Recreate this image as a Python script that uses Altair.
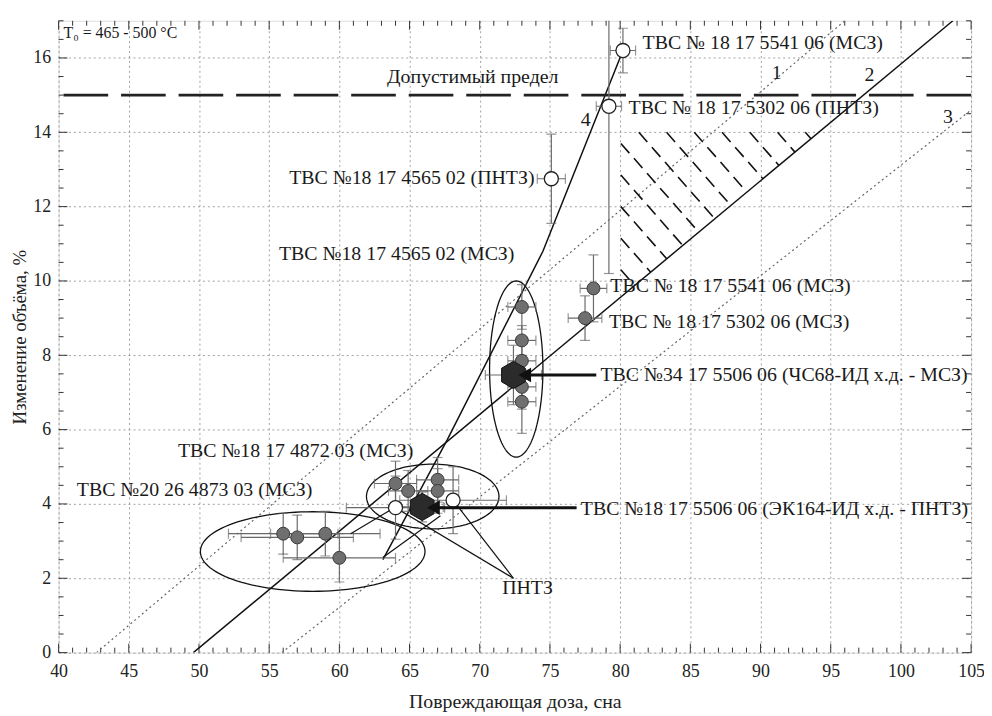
import altair as alt
import pandas as pd
import numpy as np

# ---------------- data ----------------
# open (white) circles: x, y, x-error, y-error
open_x = [80.2, 79.2, 75.1, 64.0, 68.1]
open_y = [16.2, 14.7, 12.75, 3.9, 4.1]
open_xe = [0.9, 0.9, 1.0, 3.5, 3.8]
open_ye = [0.6, 4.5, 1.2, 0.85, 0.9]

# filled grey circles
fill_x = [78.1, 77.5, 73.0, 73.0, 73.0, 73.0, 73.0, 64.0, 64.9, 67.0, 67.0, 56.0, 57.0, 59.0, 60.0]
fill_y = [9.8, 9.0, 9.3, 8.4, 7.85, 7.15, 6.75, 4.55, 4.35, 4.65, 4.35, 3.2, 3.1, 3.2, 2.55]
fill_xe = [0.95, 1.2, 1.0, 1.0, 1.0, 1.0, 1.0, 1.5, 1.4, 1.5, 1.5, 3.9, 4.0, 3.9, 4.0]
fill_ye = [0.9, 0.6, 0.6, 0.4, 0.5, 0.6, 0.85, 0.6, 0.55, 0.6, 0.6, 0.55, 0.6, 0.6, 0.65]

# dark hexagons
hex_x = [72.4, 65.9]
hex_y = [7.47, 3.92]
hex_xe = [2.0, 1.5]
hex_ye = [0.8, 0.4]

# reference lines
line2_x = [49.6, 103.7]
line2_y = [0.0, 17.0]
line4_x = [63.1, 67.7, 74.5, 80.2]
line4_y = [2.5, 5.74, 10.8, 16.2]
line1_x = [42.7, 96.0]
line1_y = [0.0, 17.0]
line3_x = [55.9, 105.0]
line3_y = [0.0, 14.6]
limit_y = 15.0

# ellipses: centre x, centre y, half-width, half-height
ell_cx = [72.6, 66.65, 58.1]
ell_cy = [7.63, 4.2, 2.72]
ell_rx = [1.9, 4.72, 8.0]
ell_ry = [2.37, 0.87, 1.07]

# hatched zone: left edge x, top y, hatch offsets
hatch_left = 80.05
hatch_top = 14.0
hatch_c = [10.3, 11.15, 12.0, 12.85, 13.7, 14.55, 15.4, 16.25, 17.1, 17.95, 18.8, 19.65]

title_label = ("T₀ = 465 - 500 °C", 40.35, 16.68)
labels_left = [
    ("Допустимый предел", 63.4, 15.48),
    ("1", 90.8, 15.6),
    ("2", 97.4, 15.55),
    ("3", 103.0, 14.4),
    ("4", 77.2, 14.33),
    ("ТВС № 18 17 5541 06 (МСЗ)", 81.6, 16.4),
    ("ТВС № 18 17 5302 06 (ПНТЗ)", 80.6, 14.65),
    ("ТВС №18 17 4565 02 (МСЗ)", 55.7, 10.73),
    ("ТВС № 18 17 5541 06 (МСЗ)", 79.3, 9.87),
    ("ТВС № 18 17 5302 06 (МСЗ)", 79.2, 8.89),
    ("ТВС №34 17 5506 06 (ЧС68-ИД х.д. - МСЗ)", 78.6, 7.47),
    ("ТВС №18 17 5506 06 (ЭК164-ИД х.д. - ПНТЗ)", 77.2, 3.87),
    ("ТВС №18 17 4872 03 (МСЗ)", 48.5, 5.42),
    ("ТВС №20 26 4873 03 (МСЗ)", 41.3, 4.38),
    ("ПНТЗ", 71.6, 1.73),
]
labels_right = [
    ("ТВС №18 17 4565 02 (ПНТЗ)", 73.9, 12.78),
]

# arrows / leader lines: x1, y1, x2, y2
thick_arrows = [(78.3, 7.47, 73.2, 7.47), (76.9, 3.9, 66.7, 3.9)]
thin_lines = [(72.4, 2.0, 64.0, 3.9), (72.4, 2.0, 68.1, 4.1),
              (60.8, 3.2, 63.7, 3.85), (63.1, 2.56, 67.2, 3.68)]

# ---------------- chart ----------------
W, H = 920, 637
serif = "'Liberation Serif', 'DejaVu Serif', serif"
FS = 20
xs = alt.Scale(domain=[40, 105], nice=False, zero=False)
ys = alt.Scale(domain=[0, 17], nice=False, zero=False)
xaxis = alt.Axis(values=list(range(40, 106, 5)), title="Повреждающая доза, сна",
                 grid=True, gridDash=[2, 3], gridColor="#8a8a8a", gridWidth=0.8,
                 ticks=False, domain=False, labelFont=serif, labelFontSize=18,
                 labelColor="#222", labelPadding=10, labelFlush=False,
                 titleFont=serif, titleFontSize=20, titleFontWeight="normal",
                 titleColor="#222", titlePadding=11)
yaxis = alt.Axis(values=list(range(0, 17, 2)), title="Изменение объёма, %",
                 grid=True, gridDash=[2, 3], gridColor="#8a8a8a", gridWidth=0.8,
                 ticks=False, domain=False, labelFont=serif, labelFontSize=18,
                 labelColor="#222", labelPadding=8, labelFlush=False,
                 titleFont=serif, titleFontSize=19, titleFontWeight="normal",
                 titleColor="#222", titlePadding=3)


def X(f):
    return alt.X(f, type="quantitative", scale=xs, axis=xaxis)


def Y(f):
    return alt.Y(f, type="quantitative", scale=ys, axis=yaxis)


layers = []

# axis ticks inside the frame
xmaj = pd.DataFrame({"v": list(range(40, 106, 5))})
xmin = pd.DataFrame({"v": [v for v in range(40, 106) if v % 5]})
ymaj = pd.DataFrame({"v": list(range(0, 17, 2))})
ymin = pd.DataFrame({"v": [v / 2 for v in range(0, 35) if v % 4]})
for df, ln in [(xmaj, 9), (xmin, 5)]:
    layers.append(alt.Chart(df).mark_rule(color="#333", strokeWidth=1).encode(
        x=X("v"), y=alt.value(H), y2=alt.value(H - ln)))
    layers.append(alt.Chart(df).mark_rule(color="#333", strokeWidth=1).encode(
        x=X("v"), y=alt.value(0), y2=alt.value(ln)))
for df, ln in [(ymaj, 9), (ymin, 5)]:
    layers.append(alt.Chart(df).mark_rule(color="#333", strokeWidth=1).encode(
        y=Y("v"), x=alt.value(0), x2=alt.value(ln)))
    layers.append(alt.Chart(df).mark_rule(color="#333", strokeWidth=1).encode(
        y=Y("v"), x=alt.value(W), x2=alt.value(W - ln)))

# dotted lines 1 and 3
dl = pd.DataFrame({"x": line1_x + line3_x, "y": line1_y + line3_y,
                   "g": ["1", "1", "3", "3"]})
layers.append(alt.Chart(dl).mark_line(color="#666", strokeDash=[2, 3], strokeWidth=1.2, clip=True).encode(
    x=X("x"), y=Y("y"), detail="g:N"))

# solid lines 2 and 4
sl = pd.DataFrame({"x": line2_x + line4_x, "y": line2_y + line4_y,
                   "g": ["2"] * len(line2_x) + ["4"] * len(line4_x),
                   "o": list(range(len(line2_x))) + list(range(len(line4_x)))})
layers.append(alt.Chart(sl).mark_line(color="#111", strokeWidth=1.5, clip=True).encode(
    x=X("x"), y=Y("y"), detail="g:N", order="o:Q"))

# permissible limit
layers.append(alt.Chart(pd.DataFrame({"y": [limit_y]})).mark_rule(
    color="#222", strokeWidth=3, strokeDash=[45, 13]).encode(y=Y("y")))

# hatching (bounded by left edge, top edge and line 2)
k2 = (line2_y[1] - line2_y[0]) / (line2_x[1] - line2_x[0])
hs = -0.43
rows = []
for i, c in enumerate(hatch_c):
    if c <= hatch_top:
        x1, y1 = hatch_left, c
    else:
        x1 = hatch_left + (c - hatch_top) / (-hs)
        y1 = hatch_top
    xe = (c - hs * hatch_left + k2 * line2_x[0]) / (k2 - hs)
    ye = k2 * (xe - line2_x[0])
    if xe > x1:
        rows.append({"x": x1, "y": y1, "x2": xe, "y2": ye})
hd = pd.DataFrame(rows)
layers.append(alt.Chart(hd).mark_rule(color="#111", strokeWidth=1.6, strokeDash=[13, 7]).encode(
    x=X("x"), y=Y("y"), x2="x2", y2="y2"))

# ellipses
erows = []
t = np.linspace(0, 2 * np.pi, 121)
for i in range(len(ell_cx)):
    for j, tt in enumerate(t):
        erows.append({"x": ell_cx[i] + ell_rx[i] * np.cos(tt),
                      "y": ell_cy[i] + ell_ry[i] * np.sin(tt), "g": i, "o": j})
ed = pd.DataFrame(erows)
layers.append(alt.Chart(ed).mark_line(color="#111", strokeWidth=1.3).encode(
    x=X("x"), y=Y("y"), detail="g:N", order="o:Q"))


def errdf(xv, yv, xe, ye):
    return pd.DataFrame({"x": xv, "y": yv,
                         "xlo": [a - b for a, b in zip(xv, xe)], "xhi": [a + b for a, b in zip(xv, xe)],
                         "ylo": [a - b for a, b in zip(yv, ye)], "yhi": [a + b for a, b in zip(yv, ye)]})


eb = pd.concat([errdf(open_x, open_y, open_xe, open_ye),
                errdf(fill_x, fill_y, fill_xe, fill_ye),
                errdf(hex_x, hex_y, hex_xe, hex_ye)], ignore_index=True)
ec = "#6a6a6a"
layers.append(alt.Chart(eb).mark_rule(color=ec, strokeWidth=1.2, clip=True).encode(
    x=X("xlo"), x2="xhi", y=Y("y")))
layers.append(alt.Chart(eb).mark_rule(color=ec, strokeWidth=1.2, clip=True).encode(
    x=X("x"), y=Y("ylo"), y2="yhi"))
for f in ["xlo", "xhi"]:
    layers.append(alt.Chart(eb).mark_tick(color=ec, orient="vertical", size=10, thickness=1.2, clip=True).encode(
        x=X(f), y=Y("y")))
for f in ["ylo", "yhi"]:
    layers.append(alt.Chart(eb).mark_tick(color=ec, orient="horizontal", size=10, thickness=1.2, clip=True).encode(
        x=X("x"), y=Y(f)))

# thin leader lines
tl = pd.DataFrame(thin_lines, columns=["x", "y", "x2", "y2"])
layers.append(alt.Chart(tl).mark_rule(color="#111", strokeWidth=1.2).encode(
    x=X("x"), y=Y("y"), x2="x2", y2="y2"))

# points
layers.append(alt.Chart(pd.DataFrame({"x": fill_x, "y": fill_y})).mark_point(
    shape="circle", filled=True, fill="#6f6f6f", stroke="#3a3a3a", strokeWidth=1, size=170, opacity=1).encode(
    x=X("x"), y=Y("y")))
layers.append(alt.Chart(pd.DataFrame({"x": open_x, "y": open_y})).mark_point(
    shape="circle", filled=True, fill="white", stroke="#222", strokeWidth=1.3, size=200, opacity=1).encode(
    x=X("x"), y=Y("y")))
hexpath = "M0,-1 L0.866,-0.5 L0.866,0.5 L0,1 L-0.866,0.5 L-0.866,-0.5 Z"
layers.append(alt.Chart(pd.DataFrame({"x": hex_x, "y": hex_y})).mark_point(
    shape=hexpath, filled=True, fill="#2b2b2b", stroke="#111", strokeWidth=1, size=760, opacity=1).encode(
    x=X("x"), y=Y("y")))

# thick arrows
ta = pd.DataFrame(thick_arrows, columns=["x", "y", "x2", "y2"])
layers.append(alt.Chart(ta).mark_rule(color="#111", strokeWidth=3).encode(
    x=X("x"), y=Y("y"), x2="x2", y2="y2"))
layers.append(alt.Chart(ta).mark_point(shape="triangle-left", filled=True, color="#111", size=220, opacity=1).encode(
    x=X("x2"), y=Y("y2")))

# texts
t0 = pd.DataFrame([title_label], columns=["t", "x", "y"])
layers.append(alt.Chart(t0).mark_text(align="left", baseline="middle", font=serif, fontSize=16, color="#1a1a1a").encode(
    x=X("x"), y=Y("y"), text="t:N"))
tdl = pd.DataFrame(labels_left, columns=["t", "x", "y"])
layers.append(alt.Chart(tdl).mark_text(align="left", baseline="middle", font=serif, fontSize=FS, color="#1a1a1a").encode(
    x=X("x"), y=Y("y"), text="t:N"))
tdr = pd.DataFrame(labels_right, columns=["t", "x", "y"])
layers.append(alt.Chart(tdr).mark_text(align="right", baseline="middle", font=serif, fontSize=FS, color="#1a1a1a").encode(
    x=X("x"), y=Y("y"), text="t:N"))

chart = alt.layer(*layers).properties(
    width=W, height=H,
    autosize=alt.AutoSizeParams(type="none"),
    padding={"left": 51, "top": 10, "right": 13, "bottom": 60},
).configure_view(stroke="#333", strokeWidth=1.5).configure(background="white")

chart.save("out.html", embed_options={"renderer": "svg", "actions": False})
